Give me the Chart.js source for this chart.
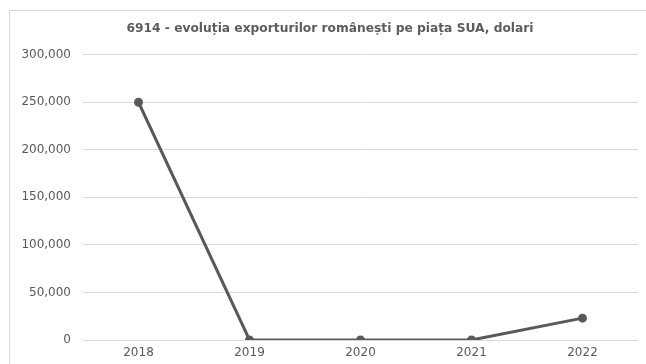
<!DOCTYPE html>
<html>
<head>
    <meta charset="utf-8">
    <title>6914 - exporturi SUA</title>
    <script src="https://cdn.jsdelivr.net/npm/chart.js@4.4.3/dist/chart.umd.min.js"></script>
    <style>
        html, body {
            margin: 0;
            padding: 0;
            background: #fff;
        }
    </style>
</head>
<body>
    <canvas id="chart" width="646" height="364"></canvas>

    <script>
        const years = ['2018', '2019', '2020', '2021', '2022']
        const exportValues = [250000, 0, 0, 0, 23000]
        const yTicks = [0, 50000, 100000, 150000, 200000, 250000, 300000]

        const grey = '#595959'

        // thin frame along the top and left edges of the chart box
        const frameLines = {
            id: 'frameLines',
            beforeDraw(chart) {
                const ctx = chart.ctx
                ctx.save()
                ctx.strokeStyle = '#d9d9d9'
                ctx.lineWidth = 1
                ctx.beginPath()
                ctx.moveTo(9.5, chart.height)
                ctx.lineTo(9.5, 10.5)
                ctx.lineTo(chart.width, 10.5)
                ctx.stroke()
                ctx.restore()
            }
        }

        new Chart(document.getElementById('chart'), {
            type: 'line',
            data: {
                labels: years,
                datasets: [
                    {
                        data: exportValues,
                        borderColor: grey,
                        backgroundColor: grey,
                        borderWidth: 3,
                        pointRadius: 3,
                        pointHoverRadius: 3,
                        tension: 0
                    }
                ]
            },
            options: {
                responsive: false,
                animation: false,
                layout: {
                    padding: { left: 22, right: 8, top: 0, bottom: 0 }
                },
                plugins: {
                    legend: { display: false },
                    tooltip: { enabled: false },
                    title: {
                        display: true,
                        text: '6914 - evoluția exporturilor românești pe piața SUA, dolari',
                        color: '#5c5c5c',
                        font: { family: 'DejaVu Sans', size: 12.25, weight: 'bold' },
                        padding: { top: 21, bottom: 19 }
                    }
                },
                scales: {
                    x: {
                        offset: true,
                        afterFit: axis => {
                            axis.height = 24
                        },
                        grid: { display: false, drawTicks: false },
                        border: { display: false },
                        ticks: {
                            color: grey,
                            font: { family: 'DejaVu Sans', size: 12 },
                            padding: 6
                        }
                    },
                    y: {
                        min: 0,
                        max: 300000,
                        afterBuildTicks: axis => {
                            axis.ticks = yTicks.map(v => ({ value: v }))
                        },
                        afterFit: axis => {
                            axis.width = 61
                        },
                        grid: {
                            color: '#d9d9d9',
                            drawTicks: false
                        },
                        border: { display: false },
                        ticks: {
                            color: grey,
                            font: { family: 'DejaVu Sans', size: 12 },
                            padding: 12,
                            callback: v => v.toLocaleString('en-US')
                        }
                    }
                }
            },
            plugins: [frameLines]
        })
    </script>
</body>
</html>
